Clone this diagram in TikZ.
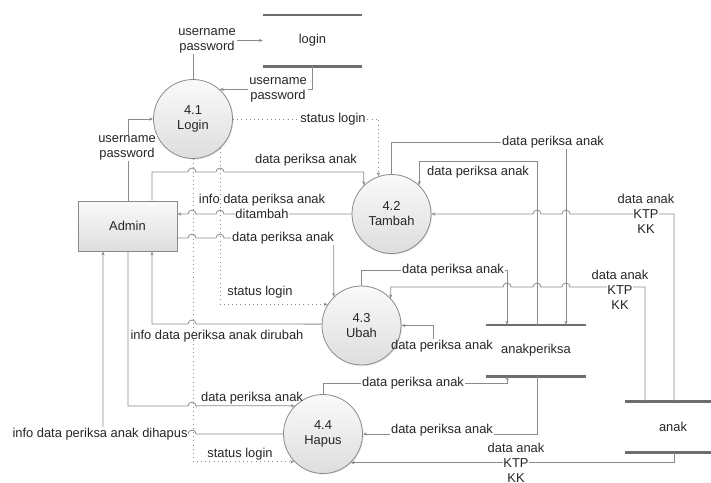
\documentclass[tikz,border=0pt]{standalone}
\usepackage{fontspec}
\setmainfont{Liberation Sans}
\usetikzlibrary{arrows.meta,shadows}
\definecolor{lngray}{HTML}{8A8A8A}
\definecolor{stgray}{HTML}{6E6E6E}
\definecolor{bgfill}{HTML}{EEEEEE}
\definecolor{txtc}{HTML}{262626}
\tikzset{
  flw/.style={draw=lngray, line width=0.8pt, -{Stealth[length=4pt,width=3.2pt]}},
  dotflw/.style={flw, line width=0.9pt, dash pattern=on 0.9pt off 3.3pt},
  proc/.style={circle, draw=lngray, line width=0.8pt, top color=white!96!gray, bottom color=bgfill!85!gray,
    minimum size=79pt, inner sep=0pt, align=center, text=txtc,
    drop shadow={shadow xshift=1pt, shadow yshift=-1pt, opacity=0.2}},
  ent/.style={rectangle, draw=lngray, line width=0.8pt, top color=white!96!gray, bottom color=bgfill!85!gray,
    minimum width=99pt, minimum height=50pt, text=txtc,
    drop shadow={shadow xshift=1pt, shadow yshift=-1pt, opacity=0.2}},
  store/.style={minimum width=99pt, minimum height=51pt, inner sep=0pt, text=txtc},
  storeln/.style={draw=stgray, line width=2.6pt},
  lbl/.style={align=center, inner sep=1pt, text=txtc},
  onl/.style={lbl, fill=white},
}
% line hops (to the right / to the left)
\newcommand{\hopr}[2]{-- (#1-4,#2) arc[start angle=180,end angle=360,radius=4]}
\newcommand{\hopl}[2]{-- (#1+4,#2) arc[start angle=0,end angle=-180,radius=4]}
\newcommand{\onln}[1]{{\setlength{\fboxsep}{0.5pt}\colorbox{white}{#1}}}

\begin{document}
\begin{tikzpicture}[x=1pt,y=-1pt,font=\fontsize{12.9}{15}\selectfont]
  \useasboundingbox (0,0) rectangle (711,482);
  % processes
  \node[proc] (p41) at (193,119) {4.1\\Login};
  \node[proc] (p42) at (391.5,214) {4.2\\Tambah};
  \node[proc] (p43) at (361.5,325.5) {4.3\\Ubah};
  \node[proc] (p44) at (323,434) {4.4\\Hapus};
  \node[ent] (admin) at (127.5,226) {Admin};
  % data stores
  \node[store] (login) at (312.5,40.5) {login};
  \node[store] (ap) at (536,350.5) {anakperiksa};
  \node[store, minimum width=96pt] (anak) at (673,427) {anak};
  \draw[storeln] (login.north west) -- (login.north east) (login.south west) -- (login.south east);
  \draw[storeln] (ap.north west) -- (ap.north east) (ap.south west) -- (ap.south east);
  \draw[storeln] (anak.north west) -- (anak.north east) (anak.south west) -- (anak.south east);

  % login
  \draw[flw] ([xshift=0.5pt]admin.north) |- (p41.west);
  \draw[flw] (p41.north) |- (login.west);
  \draw[flw] (login.south) |- (p41.48);
  \draw[dotflw] (p41.east) -| (p42.109);
  \draw[dotflw] (p41.-47) |- (p43.148);
  \draw[dotflw] (p41.south) |- (p44.-136);

  % admin <-> processes
  \draw[flw] ([xshift=24.5pt]admin.north) -- (152,172) \hopr{192}{172} \hopr{220}{172} -| (p42.134);
  \draw[flw] (p42.west) \hopl{220}{214} \hopl{192}{214} -- (admin.east |- p42.west);
  \draw[flw] ([yshift=-12pt]admin.east) \hopr{192}{238} \hopr{220}{238} -| (p43.134);
  \draw[flw] (p43.178) \hopl{192}{324} -| ([xshift=24.5pt]admin.south);
  \draw[flw] ([xshift=0.5pt]admin.south) -- (128,406) \hopr{192}{406} |- (p44.135);
  \draw[flw] (p44.west) \hopl{192}{434} -| ([xshift=-24.5pt]admin.south);

  % anak -> processes
  \draw[flw] ([xshift=1pt]anak.north) -- (674,214) \hopl{566}{214} \hopl{537}{214} -- (p42.east);
  \draw[flw] ([xshift=-28pt]anak.north) -- (645,287) \hopl{566}{287} \hopl{537}{287} \hopl{507}{287} -| (p43.43);
  \draw[flw] ([xshift=1pt]anak.south) |- (p44.-46);

  % anakperiksa <-> processes
  \node[lbl] (lbAp43b) at (442,346) {data periksa anak};
  \draw[flw] ([xshift=1pt]ap.north) -- (537,161) -| (p42.46);
  \draw[flw] (p42.north) -- ++(0,-32) -| ([xshift=30pt]ap.north);
  \draw[flw] (p43.north) -- ++(0,-15.6) -| ([xshift=-29pt]ap.north);
  \draw[flw] ([xshift=-9pt]lbAp43b.north) |- (p43.east);
  \draw[flw] (p44.north) -- ++(0,-11) -| ([xshift=-29pt]ap.south);
  \draw[flw] ([xshift=1pt]ap.south) |- (p44.east);

  % labels
  \node[onl] (lbUser1) at (127,148) {username\\password};
  \node[onl] (lbUser2) at (207,41) {username\\password};
  \node[onl] (lbUser3) at (278,90) {username\\password};
  \node[onl] (lbStat1) at (333,119) {status login};
  \node[lbl] (lbStat2) at (260,292) {status login};
  \node[lbl] (lbStat3) at (240,454) {status login};
  \node[lbl] (lbTambahIn) at (306,160) {data periksa anak};
  \node[lbl] (lbTambahOut) at (262,207) {info data periksa anak\\\onln{ditambah}};
  \node[onl] (lbUbahIn) at (283,238) {data periksa anak};
  \node[lbl] (lbUbahOut) at (217,336) {info data periksa anak dirubah};
  \node[lbl] (lbHapusIn) at (252,398) {data periksa anak};
  \node[onl] (lbHapusOut) at (100,434) {info data periksa anak dihapus};
  \node[lbl] (lbAnak42) at (646,214) {data anak\\\onln{KTP}\\KK};
  \node[lbl] (lbAnak43) at (620,290) {data anak\\\onln{KTP}\\KK};
  \node[lbl] (lbAnak44) at (516,463) {data anak\\\onln{KTP}\\KK};
  \node[onl] (lbAp42a) at (553,142) {data periksa anak};
  \node[lbl] (lbAp42b) at (478,172) {data periksa anak};
  \node[onl] (lbAp43a) at (453,270) {data periksa anak};
  \node[onl] (lbAp44a) at (413,383) {data periksa anak};
  \node[onl] (lbAp44b) at (442,430) {data periksa anak};
\end{tikzpicture}
\end{document}
